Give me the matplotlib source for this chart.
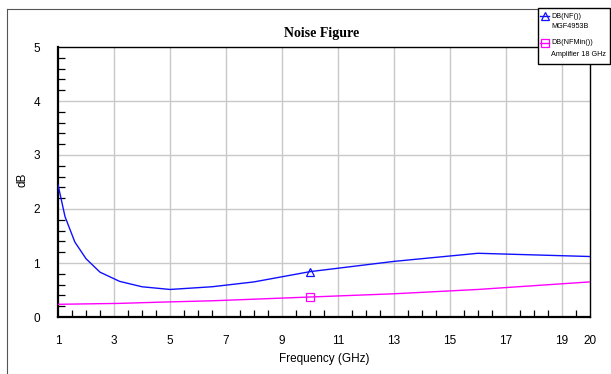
import matplotlib
matplotlib.use("Agg")
import matplotlib.pyplot as plt
from matplotlib.lines import Line2D
from matplotlib.patches import Rectangle
from matplotlib.ticker import MultipleLocator, FixedLocator

freq = [1, 1.25, 1.6, 2, 2.5, 3.2, 4, 5, 6.5, 8, 10, 13, 16, 20]
nf = [2.45, 1.86, 1.39, 1.08, 0.83, 0.66, 0.56, 0.51, 0.56, 0.65, 0.84, 1.03, 1.18, 1.12]
nfmin = [0.235, 0.237, 0.24, 0.243, 0.247, 0.252, 0.265, 0.28, 0.30, 0.33, 0.37, 0.43, 0.51, 0.65]
marker_freq = 10
nf_marker = 0.84
nfmin_marker = 0.37
xticks = [1, 3, 5, 7, 9, 11, 13, 15, 17, 19, 20]
yticks = [0, 1, 2, 3, 4, 5]
legend_labels = [("DB(NF())", "MGF4953B"), ("DB(NFMin())", "Amplifier 18 GHz")]

plt.rcParams['font.family'] = ['Liberation Sans', 'DejaVu Sans']

W, H = 611, 374
fig = plt.figure(figsize=(W / 100, H / 100), dpi=100)
ax = fig.add_axes([58 / W, 1 - 317 / H, (590 - 58) / W, (317 - 47) / H])

blue = '#1010ff'
mag = '#ff00ff'
ax.plot(freq, nf, color=blue, lw=1.0, zorder=3)
ax.plot(freq, nfmin, color=mag, lw=1.0, zorder=3)
ax.plot([marker_freq], [nf_marker], marker='^', ms=6, mfc='none', mec=blue, mew=0.9, ls='none', zorder=4)
ax.plot([marker_freq], [nfmin_marker], marker='s', ms=6, mfc='none', mec=mag, mew=0.9, ls='none', zorder=4)

ax.set_xlim(1, 20)
ax.set_ylim(0, 5)
ax.xaxis.set_major_locator(FixedLocator(xticks))
ax.yaxis.set_major_locator(FixedLocator(yticks))
ax.xaxis.set_minor_locator(MultipleLocator(0.5))
ax.yaxis.set_minor_locator(MultipleLocator(0.2))
ax.tick_params(which='major', length=0, labelsize=8.5, colors='black')
ax.tick_params(axis='x', which='major', pad=13)
ax.tick_params(axis='y', which='major', pad=13)
ax.tick_params(which='minor', direction='in', length=5, width=0.9, color='black')

for v in xticks[1:-1]:
    ax.axvline(v, color='#c8c8c8', lw=1.0, zorder=1)
for v in yticks[1:-1]:
    ax.axhline(v, color='#c8c8c8', lw=1.0, zorder=1)

for s in ['left', 'bottom']:
    ax.spines[s].set_linewidth(1.6)
for s in ['top', 'right']:
    ax.spines[s].set_linewidth(1.0)

ax.set_xlabel('Frequency (GHz)', fontsize=8.5, labelpad=4)
ax.set_ylabel('dB', fontsize=8.5)
ax.yaxis.set_label_coords((29 - 58) / 532, (317 - 180) / 270)
fig.text(322 / W, 1 - 34 / H, 'Noise Figure', ha='center', va='center',
         fontsize=10, fontweight='bold', family=['Liberation Serif', 'DejaVu Serif'])

# figure frame lines (top and left)
fig.add_artist(Line2D([7 / W, 1], [1 - 9 / H, 1 - 9 / H], color='#555555', lw=0.8, transform=fig.transFigure))
fig.add_artist(Line2D([7 / W, 7 / W], [0, 1 - 9 / H], color='#555555', lw=0.8, transform=fig.transFigure))

# legend box
lx0, ly0, lx1, ly1 = 537.5, 8.5, 610, 63.5
fig.add_artist(Rectangle((lx0 / W, 1 - ly1 / H), (lx1 - lx0) / W, (ly1 - ly0) / H,
                         transform=fig.transFigure, facecolor='white', edgecolor='black', lw=1.0, zorder=10))
entries = [(blue, '^', 16), (mag, 's', 43)]
for (c, m, yy), (l1, l2) in zip(entries, legend_labels):
    fig.add_artist(Line2D([540 / W, 549 / W], [1 - yy / H] * 2, color=c, lw=1.0, transform=fig.transFigure, zorder=11))
    fig.add_artist(Line2D([544.5 / W], [1 - yy / H], marker=m, ms=6, mfc='none', mec=c, mew=0.9,
                          transform=fig.transFigure, zorder=11))
    fig.text(551 / W, 1 - yy / H, l1, fontsize=5.2, va='center', ha='left', zorder=12)
    fig.text(551 / W, 1 - (yy + 11) / H, l2, fontsize=5.2, va='center', ha='left', zorder=12)

fig.savefig('out.png', dpi=100)
